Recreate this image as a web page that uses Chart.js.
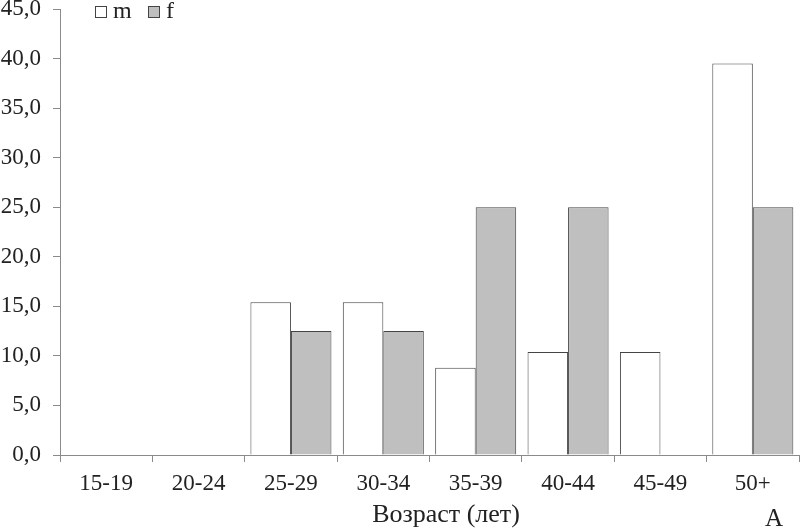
<!DOCTYPE html>
<html>
<head>
<meta charset="utf-8">
<script src="https://cdn.jsdelivr.net/npm/chart.js@4/dist/chart.umd.min.js"></script>
<style>
html,body{margin:0;padding:0;background:#fff;}
#wrap{width:801px;height:531px;position:relative;}
</style>
</head>
<body>
<div id="wrap"><canvas id="c" width="801" height="531"></canvas></div>
<script>
const categories = ['15-19','20-24','25-29','30-34','35-39','40-44','45-49','50+'];
const mValues = [0, 0, 15.4, 15.4, 8.8, 10.4, 10.4, 39.5];
const fValues = [0, 0, 12.5, 12.5, 25.0, 25.0, 0, 25.0];
const seriesNames = ['m', 'f'];
const xTitle = 'Возраст (лет)';
const panelLabel = 'A';

const FONT = '"Liberation Serif", "Times New Roman", serif';
const AXIS = '#8a8a8a';
const TEXT = '#222';

const extraText = {
  id: 'extraText',
  afterDraw(chart) {
    const ctx = chart.ctx;
    const ca = chart.chartArea;
    ctx.save();
    ctx.fillStyle = TEXT;
    ctx.textBaseline = 'alphabetic';
    ctx.textAlign = 'center';
    ctx.font = '26px ' + FONT;
    ctx.fillText(xTitle, 446, 522);
    ctx.font = '25px ' + FONT;
    ctx.fillText(panelLabel, 774, 526);
    // legend
    ctx.textAlign = 'left';
    ctx.font = '24px ' + FONT;
    let x = ca.left + 35;
    const y = 6;
    chart.data.datasets.forEach((ds, i) => {
      ctx.fillStyle = ds.backgroundColor;
      ctx.strokeStyle = ds.borderColor;
      ctx.lineWidth = 1;
      ctx.fillRect(x + 0.5, y + 0.5, 11, 11);
      ctx.strokeRect(x + 0.5, y + 0.5, 11, 11);
      ctx.fillStyle = TEXT;
      ctx.fillText(ds.label, x + 18, y + 11.5);
      x += 53;
    });
    ctx.restore();
  }
};

new Chart(document.getElementById('c'), {
  type: 'bar',
  data: {
    labels: categories,
    datasets: [
      { label: seriesNames[0], data: mValues, backgroundColor: '#ffffff', borderColor: '#444444', borderWidth: 1 },
      { label: seriesNames[1], data: fValues, backgroundColor: '#bfbfbf', borderColor: '#444444', borderWidth: 1 }
    ]
  },
  options: {
    responsive: false,
    animation: false,
    devicePixelRatio: 1,
    layout: { padding: { top: 9, right: 2, left: 0, bottom: 0 } },
    plugins: { legend: { display: false }, tooltip: { enabled: false } },
    datasets: { bar: { categoryPercentage: 0.877, barPercentage: 1.0 } },
    scales: {
      x: {
        grid: { display: true, drawOnChartArea: false, drawTicks: true, tickLength: 7, color: AXIS, offset: true },
        border: { display: true, color: AXIS, width: 1 },
        ticks: { color: TEXT, font: { family: FONT, size: 23 }, padding: 8, maxRotation: 0 },
        afterFit(s) { s.height = 76; s.paddingLeft = 0; s.paddingRight = 0; }
      },
      y: {
        min: 0, max: 45,
        grid: { display: true, drawOnChartArea: false, drawTicks: true, tickLength: 7, color: AXIS },
        border: { display: true, color: AXIS, width: 1 },
        ticks: {
          stepSize: 5, color: TEXT, font: { family: FONT, size: 23 }, padding: 12,
          callback: v => v.toFixed(1).replace('.', ',')
        },
        afterFit(s) { s.width = 60; s.paddingTop = 0; s.paddingBottom = 0; }
      }
    }
  },
  plugins: [extraText]
});
</script>
</body>
</html>
